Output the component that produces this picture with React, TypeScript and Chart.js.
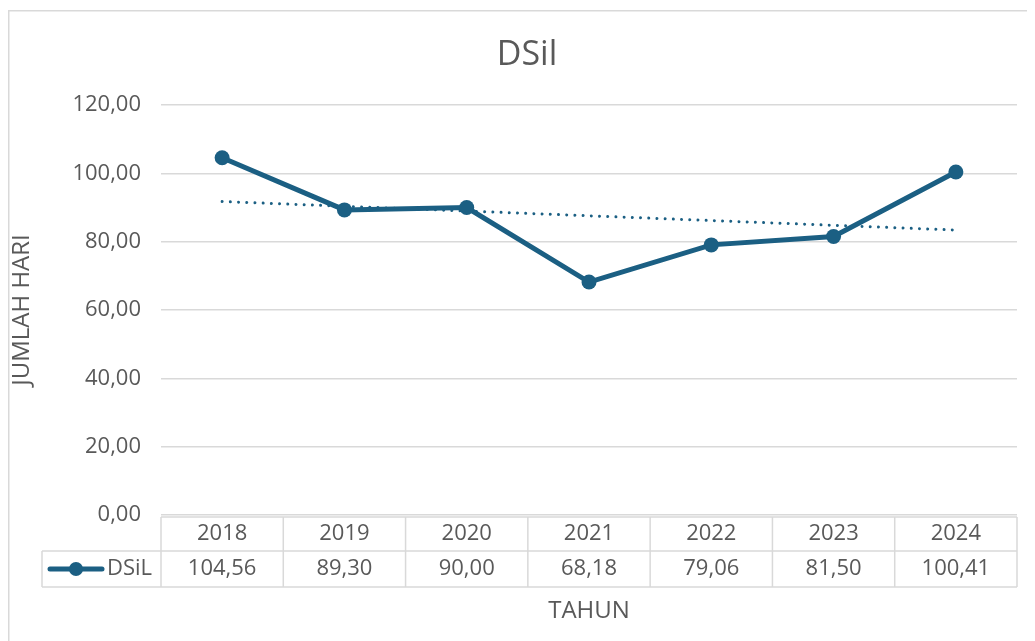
import React, { useEffect, useRef } from "react";
import { Chart, registerables } from "chart.js";

Chart.register(...registerables);

const chartTitle = "DSil";
const seriesName = "DSiL";
const categories = ["2018", "2019", "2020", "2021", "2022", "2023", "2024"];
const values = [104.56, 89.3, 90.0, 68.18, 79.06, 81.5, 100.41];
const yMin = 0;
const yMax = 120;
const yStep = 20;
const yTitle = "JUMLAH HARI";
const xTitle = "TAHUN";

const FONT = "'Open Sans', 'Noto Sans', sans-serif";
const LINE_COLOR = "#1b5f83";
const TEXT_COLOR = "#595959";
const GRID_COLOR = "#d9d9d9";

const fmt = (v: number) => v.toFixed(2).replace(".", ",");

// linear trendline (least squares over the series values), as Excel computes it
function linearTrend(ys: number[]): number[] {
  const n = ys.length;
  const mx = (n - 1) / 2;
  const my = ys.reduce((a, b) => a + b, 0) / n;
  let num = 0;
  let den = 0;
  ys.forEach((y, i) => {
    num += (i - mx) * (y - my);
    den += (i - mx) * (i - mx);
  });
  const slope = num / den;
  return ys.map((_, i) => my + slope * (i - mx));
}

const decorPlugin = {
  id: "decor",
  beforeDraw(chart: any) {
    const ctx = chart.ctx;
    ctx.save();
    ctx.strokeStyle = GRID_COLOR;
    ctx.lineWidth = 1.5;
    ctx.strokeRect(0.75, 2.75, chart.width + 20, chart.height + 20);
    ctx.fillStyle = TEXT_COLOR;
    ctx.font = `34px ${FONT}`;
    ctx.textAlign = "center";
    ctx.textBaseline = "middle";
    ctx.fillText(chartTitle, 519, 47);
    ctx.restore();
  },
  afterDraw(chart: any) {
    const ctx = chart.ctx;
    const area = chart.chartArea;
    const xs = chart.scales.x;
    const n = categories.length;
    const colW = (area.right - area.left) / n;
    const top = area.bottom + 2;
    const mid = top + 34;
    const bottom = mid + 36;
    const legendLeft = 34;

    ctx.save();
    ctx.strokeStyle = GRID_COLOR;
    ctx.lineWidth = 1.5;
    ctx.beginPath();
    ctx.moveTo(area.left, top);
    ctx.lineTo(area.right, top);
    ctx.moveTo(legendLeft, mid);
    ctx.lineTo(area.right, mid);
    ctx.moveTo(legendLeft, bottom);
    ctx.lineTo(area.right, bottom);
    ctx.moveTo(legendLeft, mid);
    ctx.lineTo(legendLeft, bottom);
    for (let i = 0; i <= n; i++) {
      const x = area.left + i * colW;
      ctx.moveTo(x, top);
      ctx.lineTo(x, bottom);
    }
    ctx.stroke();

    ctx.fillStyle = TEXT_COLOR;
    ctx.font = `22px ${FONT}`;
    ctx.textAlign = "center";
    ctx.textBaseline = "middle";
    categories.forEach((c, i) => {
      const cx = xs.getPixelForValue(i);
      ctx.fillText(c, cx, (top + mid) / 2);
      ctx.fillText(fmt(values[i]), cx, (mid + bottom) / 2);
    });

    // legend key
    const ly = (mid + bottom) / 2;
    ctx.strokeStyle = LINE_COLOR;
    ctx.lineWidth = 5;
    ctx.lineCap = "round";
    ctx.beginPath();
    ctx.moveTo(42, ly);
    ctx.lineTo(94, ly);
    ctx.stroke();
    ctx.fillStyle = LINE_COLOR;
    ctx.beginPath();
    ctx.arc(68, ly, 7, 0, Math.PI * 2);
    ctx.fill();
    ctx.fillStyle = TEXT_COLOR;
    ctx.textAlign = "left";
    ctx.fillText(seriesName, 99, ly);

    // x axis title
    ctx.font = `24px ${FONT}`;
    ctx.textAlign = "center";
    ctx.fillText(xTitle, (area.left + area.right) / 2, 603);
    ctx.restore();
  },
};

export default function App() {
  const ref = useRef<HTMLCanvasElement | null>(null);

  useEffect(() => {
    if (!ref.current) return;
    const trend = linearTrend(values);
    const chart = new Chart(ref.current, {
      type: "line",
      data: {
        labels: categories,
        datasets: [
          {
            label: seriesName,
            data: values,
            borderColor: LINE_COLOR,
            backgroundColor: LINE_COLOR,
            borderWidth: 5,
            pointRadius: 7.5,
            pointBorderWidth: 0,
            pointBackgroundColor: LINE_COLOR,
            tension: 0,
            order: 1,
          },
          {
            label: "Trend",
            data: trend,
            borderColor: LINE_COLOR,
            borderWidth: 3,
            borderDash: [0.01, 8.2],
            borderCapStyle: "round",
            pointRadius: 0,
            tension: 0,
            order: 2,
          },
        ],
      },
      options: {
        responsive: false,
        animation: false,
        layout: { padding: { top: 97, bottom: 126, left: 0, right: 18 } },
        plugins: {
          legend: { display: false },
          title: { display: false },
          tooltip: { enabled: false },
        },
        scales: {
          x: {
            type: "category",
            display: false,
            offset: true,
          },
          y: {
            min: yMin,
            max: yMax,
            border: { display: false },
            grid: { color: GRID_COLOR, lineWidth: 1.5, drawTicks: false },
            ticks: {
              stepSize: yStep,
              padding: 20,
              color: TEXT_COLOR,
              font: { family: FONT, size: 22 },
              callback: (v: any) => fmt(Number(v)),
            },
            title: {
              display: true,
              text: yTitle,
              color: TEXT_COLOR,
              font: { family: FONT, size: 24 },
              padding: { top: 0, bottom: 0 },
            },
            afterFit: (scale: any) => {
              scale.width = 153;
            },
          },
        },
      },
      plugins: [decorPlugin],
    });
    return () => chart.destroy();
  }, []);

  return <canvas ref={ref} width={1027} height={633} style={{ display: "block" }} />;
}
